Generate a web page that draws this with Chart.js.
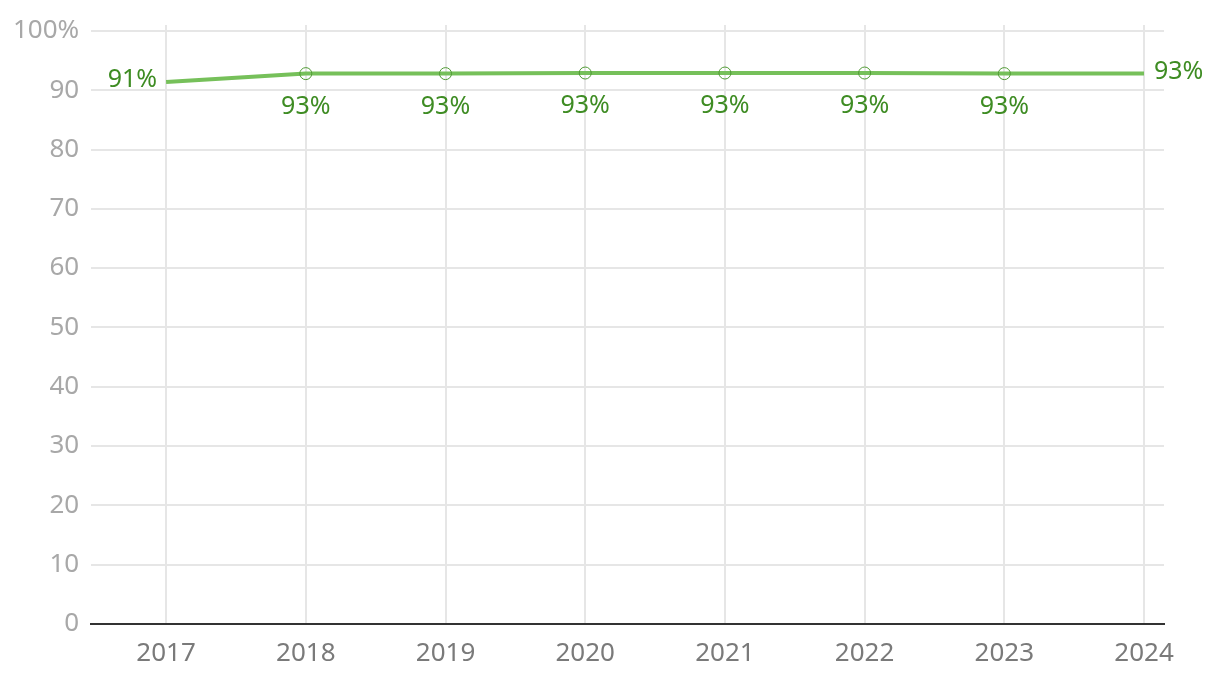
<!DOCTYPE html>
<html>
<head>
<meta charset="utf-8">
<script src="https://cdn.jsdelivr.net/npm/chart.js@4.4.1/dist/chart.umd.min.js"></script>
<style>
  html, body { margin: 0; padding: 0; background: #fff; }
  #wrap { width: 1220px; height: 688px; }
</style>
</head>
<body>
<div id="wrap"><canvas id="chart"></canvas></div>
<script>
const years = [2017, 2018, 2019, 2020, 2021, 2022, 2023, 2024];
const values = [91.4, 92.8, 92.8, 92.9, 92.9, 92.9, 92.8, 92.8];
const valueLabels = ['91%', '93%', '93%', '93%', '93%', '93%', '93%', '93%'];
const yTicks = [0, 10, 20, 30, 40, 50, 60, 70, 80, 90, 100];

const FONT = '"Noto Sans", sans-serif';
const lastIdx = years.length - 1;

// draws the value labels: first to the left, last to the right, the rest below
const valueLabelPlugin = {
  id: 'valueLabels',
  afterDatasetsDraw(chart) {
    const meta = chart.getDatasetMeta(0);
    const ctx = chart.ctx;
    ctx.save();
    ctx.font = '25px ' + FONT;
    ctx.fillStyle = '#3e8c23';
    meta.data.forEach((pt, i) => {
      const txt = valueLabels[i];
      if (i === 0) {
        ctx.textAlign = 'right';
        ctx.textBaseline = 'middle';
        ctx.fillText(txt, pt.x - 9, pt.y - 2);
      } else if (i === lastIdx) {
        ctx.textAlign = 'left';
        ctx.textBaseline = 'middle';
        ctx.fillText(txt, pt.x + 10, pt.y - 2);
      } else {
        ctx.textAlign = 'center';
        ctx.textBaseline = 'middle';
        ctx.fillText(txt, pt.x, pt.y + 33);
      }
    });
    ctx.restore();
  }
};

new Chart(document.getElementById('chart'), {
  type: 'line',
  data: {
    datasets: [{
      data: years.map((y, i) => ({ x: y, y: values[i] })),
      borderColor: '#76c05a',
      borderWidth: 4,
      tension: 0,
      fill: false,
      pointRadius: ctx => (ctx.dataIndex === 0 || ctx.dataIndex === lastIdx) ? 0 : 6,
      pointBackgroundColor: 'rgba(0,0,0,0)',
      pointBorderColor: '#4f9a33',
      pointBorderWidth: 1
    }]
  },
  options: {
    responsive: true,
    maintainAspectRatio: false,
    animation: false,
    layout: { padding: { top: 0, right: 56, left: 1, bottom: 5 } },
    plugins: {
      legend: { display: false },
      tooltip: { enabled: false }
    },
    scales: {
      x: {
        type: 'linear',
        min: 2016.464,
        max: 2024.143,
        grid: { color: '#e6e6e6', lineWidth: 2, drawTicks: false },
        border: { color: '#333', width: 2 },
        afterBuildTicks: scale => { scale.ticks = years.map(v => ({ value: v })); },
        ticks: {
          padding: 14,
          color: '#7a7a7a',
          font: { family: FONT, size: 26 },
          callback: v => String(v)
        }
      },
      y: {
        min: 0,
        max: 101,
        grid: { color: '#e6e6e6', lineWidth: 2, drawTicks: false },
        border: { display: false },
        afterBuildTicks: scale => { scale.ticks = yTicks.map(v => ({ value: v })); },
        ticks: {
          padding: 12,
          color: '#a8a8a8',
          font: { family: FONT, size: 26, lineHeight: 1 },
          callback: v => v === 100 ? '100%' : String(v)
        }
      }
    }
  },
  plugins: [valueLabelPlugin]
});
</script>
</body>
</html>
